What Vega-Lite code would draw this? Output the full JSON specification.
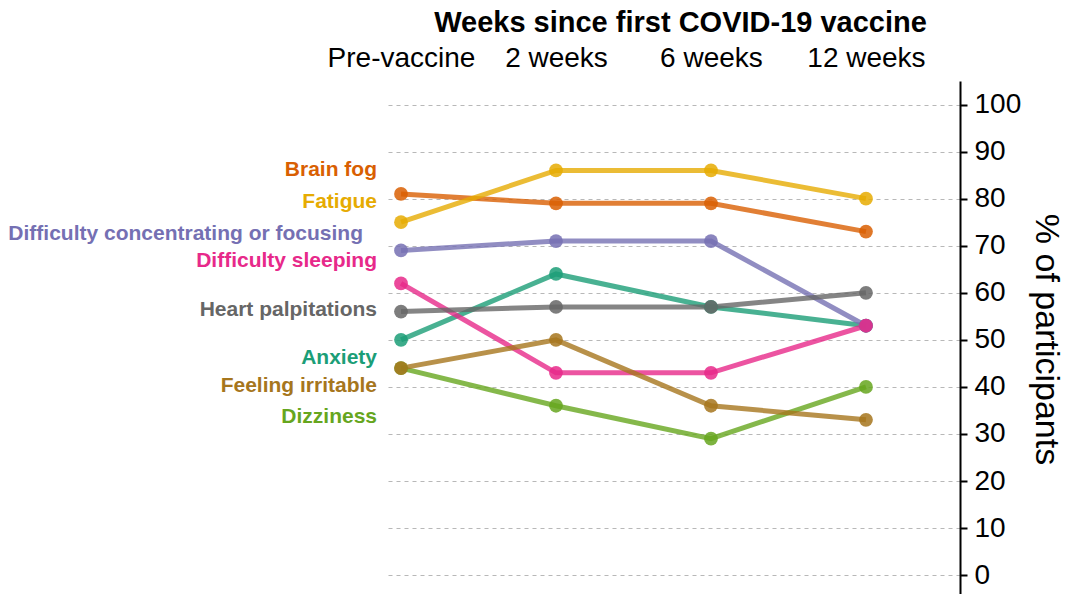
{
  "$schema": "https://vega.github.io/schema/vega-lite/v6.json",
  "width": 575,
  "height": 513,
  "autosize": {"type": "none"},
  "padding": {"left": 385, "top": 81, "right": 106, "bottom": 0},
  "background": "white",
  "config": {"view": {"stroke": null}, "font": "Liberation Sans"},
  "datasets": {
    "series": [
      {"symptom": "Anxiety", "time": "Pre-vaccine", "pct": 50},
      {"symptom": "Anxiety", "time": "2 weeks", "pct": 64},
      {"symptom": "Anxiety", "time": "6 weeks", "pct": 57},
      {"symptom": "Anxiety", "time": "12 weeks", "pct": 53},
      {"symptom": "Brain fog", "time": "Pre-vaccine", "pct": 81},
      {"symptom": "Brain fog", "time": "2 weeks", "pct": 79},
      {"symptom": "Brain fog", "time": "6 weeks", "pct": 79},
      {"symptom": "Brain fog", "time": "12 weeks", "pct": 73},
      {"symptom": "Difficulty concentrating or focusing", "time": "Pre-vaccine", "pct": 69},
      {"symptom": "Difficulty concentrating or focusing", "time": "2 weeks", "pct": 71},
      {"symptom": "Difficulty concentrating or focusing", "time": "6 weeks", "pct": 71},
      {"symptom": "Difficulty concentrating or focusing", "time": "12 weeks", "pct": 53},
      {"symptom": "Difficulty sleeping", "time": "Pre-vaccine", "pct": 62},
      {"symptom": "Difficulty sleeping", "time": "2 weeks", "pct": 43},
      {"symptom": "Difficulty sleeping", "time": "6 weeks", "pct": 43},
      {"symptom": "Difficulty sleeping", "time": "12 weeks", "pct": 53},
      {"symptom": "Dizziness", "time": "Pre-vaccine", "pct": 44},
      {"symptom": "Dizziness", "time": "2 weeks", "pct": 36},
      {"symptom": "Dizziness", "time": "6 weeks", "pct": 29},
      {"symptom": "Dizziness", "time": "12 weeks", "pct": 40},
      {"symptom": "Fatigue", "time": "Pre-vaccine", "pct": 75},
      {"symptom": "Fatigue", "time": "2 weeks", "pct": 86},
      {"symptom": "Fatigue", "time": "6 weeks", "pct": 86},
      {"symptom": "Fatigue", "time": "12 weeks", "pct": 80},
      {"symptom": "Feeling irritable", "time": "Pre-vaccine", "pct": 44},
      {"symptom": "Feeling irritable", "time": "2 weeks", "pct": 50},
      {"symptom": "Feeling irritable", "time": "6 weeks", "pct": 36},
      {"symptom": "Feeling irritable", "time": "12 weeks", "pct": 33},
      {"symptom": "Heart palpitations", "time": "Pre-vaccine", "pct": 56},
      {"symptom": "Heart palpitations", "time": "2 weeks", "pct": 57},
      {"symptom": "Heart palpitations", "time": "6 weeks", "pct": 57},
      {"symptom": "Heart palpitations", "time": "12 weeks", "pct": 60}
    ],
    "labels": [
      {"symptom": "Brain fog", "time": "Pre-vaccine", "label_y": 86.1},
      {"symptom": "Fatigue", "time": "Pre-vaccine", "label_y": 79.3},
      {"symptom": "Difficulty concentrating or focusing", "time": "Pre-vaccine", "label_y": 72.5},
      {"symptom": "Difficulty sleeping", "time": "Pre-vaccine", "label_y": 66.7},
      {"symptom": "Heart palpitations", "time": "Pre-vaccine", "label_y": 56.3},
      {"symptom": "Anxiety", "time": "Pre-vaccine", "label_y": 46.2},
      {"symptom": "Feeling irritable", "time": "Pre-vaccine", "label_y": 40.3},
      {"symptom": "Dizziness", "time": "Pre-vaccine", "label_y": 33.6}
    ]
  },
  "layer": [
    {
      "data": {"name": "series"},
      "mark": {"type": "line", "strokeWidth": 5, "opacity": 0.8},
      "encoding": {
        "x": {
          "field": "time",
          "type": "ordinal",
          "sort": ["Pre-vaccine", "2 weeks", "6 weeks", "12 weeks"],
          "scale": {"type": "point", "domain": ["Pre-vaccine", "2 weeks", "6 weeks", "12 weeks"], "padding": 0.355, "align": 0.1455},
          "axis": {
            "orient": "top",
            "domain": false,
            "ticks": false,
            "grid": false,
            "labelAngle": 0,
            "labelFontSize": 28,
            "labelColor": "black",
            "labelPadding": 9,
            "title": "Weeks since first COVID-19 vaccine",
            "titleFontSize": 29,
            "titleFontWeight": "bold",
            "titleColor": "black",
            "titleX": 295,
            "titleY": -59,
            "titleAlign": "center",
            "titleBaseline": "middle"
          }
        },
        "y": {
          "field": "pct",
          "type": "quantitative",
          "scale": {"domain": [-4, 105], "nice": false, "zero": false},
          "axis": {
            "orient": "right",
            "values": [0, 10, 20, 30, 40, 50, 60, 70, 80, 90, 100],
            "domainColor": "black",
            "domainWidth": 2,
            "tickColor": "black",
            "tickWidth": 2,
            "tickSize": 7,
            "labelFontSize": 28,
            "labelColor": "black",
            "labelPadding": 7,
            "grid": true,
            "gridDash": [4, 4],
            "gridColor": "#b8b8b8",
            "gridWidth": 1.2,
            "title": "% of participants",
            "titleFontSize": 34,
            "titleFontWeight": "normal",
            "titleColor": "black",
            "titleAngle": 90,
            "titleX": 85,
            "titleY": 258,
            "titleAlign": "center",
            "titleBaseline": "middle"
          }
        },
        "color": {
          "field": "symptom",
          "type": "nominal",
          "scale": {
            "domain": ["Anxiety", "Brain fog", "Difficulty concentrating or focusing", "Difficulty sleeping", "Dizziness", "Fatigue", "Feeling irritable", "Heart palpitations"],
            "range": ["#1b9e77", "#d95f02", "#7570b3", "#e7298a", "#66a61e", "#e6ab02", "#a6761d", "#666666"]
          },
          "legend": null
        },
        "detail": {"field": "symptom"}
      }
    },
    {
      "data": {"name": "series"},
      "mark": {"type": "point", "filled": true, "size": 190, "opacity": 0.85},
      "encoding": {
        "x": {"field": "time", "type": "ordinal"},
        "y": {"field": "pct", "type": "quantitative"},
        "color": {"field": "symptom", "type": "nominal", "legend": null}
      }
    },
    {
      "data": {"name": "labels"},
      "transform": [{"filter": "datum.symptom != 'Difficulty concentrating or focusing'"}],
      "mark": {"type": "text", "align": "right", "baseline": "middle", "dx": -24, "fontSize": 21, "fontWeight": "bold"},
      "encoding": {
        "x": {"field": "time", "type": "ordinal"},
        "y": {"field": "label_y", "type": "quantitative"},
        "text": {"field": "symptom"},
        "color": {"field": "symptom", "type": "nominal", "legend": null}
      }
    },
    {
      "data": {"name": "labels"},
      "transform": [{"filter": "datum.symptom == 'Difficulty concentrating or focusing'"}],
      "mark": {"type": "text", "align": "right", "baseline": "middle", "dx": -38, "fontSize": 21, "fontWeight": "bold"},
      "encoding": {
        "x": {"field": "time", "type": "ordinal"},
        "y": {"field": "label_y", "type": "quantitative"},
        "text": {"field": "symptom"},
        "color": {"field": "symptom", "type": "nominal", "legend": null}
      }
    }
  ]
}
